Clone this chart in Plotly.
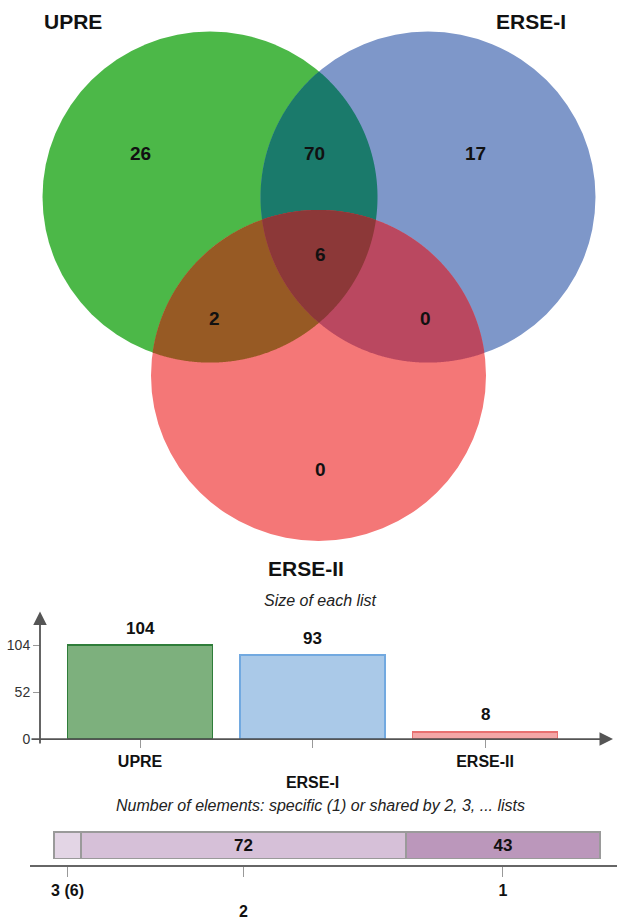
import numpy as np
import plotly.graph_objects as go

W, H = 617, 920

# ---------------- data ----------------
set_names = ["UPRE", "ERSE-I", "ERSE-II"]
# Venn region membership (UPRE, ERSE-I, ERSE-II) and counts
region_sets = [(0,), (0, 1), (1,), (0, 1, 2), (0, 2), (1, 2), (2,)]
region_counts = [26, 70, 17, 6, 2, 0, 0]
list_sizes = [104, 93, 8]
size_ticks = [0, 52, 104]
share_levels = ["3", "2", "1"]
share_counts = [6, 72, 43]

# ---------------- styles / layout ----------------
FONT = "Liberation Sans"
circle_colors = ["#4cb848", "#7e97c9", "#f47777"]
overlap_colors = {(0, 1): "#1a7a6b", (0, 2): "#975a24", (1, 2): "#ba4860", (0, 1, 2): "#8c3838"}
centers = [(210.0, 199.5), (428.0, 199.5), (318.5, 380.0)]
R = 167.5
region_label_pos = [(140, 155), (314, 155), (475, 155), (320, 258), (214, 322), (425, 322), (320, 475)]
name_label_pos = [(73, 22), (531, 22), (306, 575)]

bar_fill = ["#7db07d", "#aac9e8", "#f4a6a6"]
bar_line = ["#2f7d3a", "#72a9e0", "#e87070"]
share_fill = ["#e3d5e5", "#d6c0d8", "#bb97bb"]


def circle_pts(c, r, n=1440):
    t = np.linspace(0, 2 * np.pi, n, endpoint=False)
    return np.column_stack([c[0] + r * np.cos(t), c[1] + r * np.sin(t)])


def inside(p, c, r):
    return (p[:, 0] - c[0]) ** 2 + (p[:, 1] - c[1]) ** 2 <= r * r + 1e-6


def region_path(idx):
    pts = []
    for i in idx:
        p = circle_pts(centers[i], R)
        m = np.ones(len(p), bool)
        for j in idx:
            if j != i:
                m &= inside(p, centers[j], R)
        pts.append(p[m])
    P = np.vstack(pts)
    cx, cy = P.mean(axis=0)
    P = P[np.argsort(np.arctan2(P[:, 1] - cy, P[:, 0] - cx))]
    return "M " + " L ".join(f"{x:.2f},{y:.2f}" for x, y in P) + " Z"


shapes = []
for c, col in zip(centers, circle_colors):
    shapes.append(dict(type="circle", xref="x", yref="y", x0=c[0] - R, x1=c[0] + R,
                       y0=c[1] - R, y1=c[1] + R, fillcolor=col, line=dict(width=0), layer="below"))
for key in [(0, 1), (0, 2), (1, 2), (0, 1, 2)]:
    shapes.append(dict(type="path", xref="x", yref="y", path=region_path(key),
                       fillcolor=overlap_colors[key], line=dict(width=0), layer="below"))

annotations = []
for (x, y), n in zip(region_label_pos, region_counts):
    annotations.append(dict(x=x, y=y, xref="x", yref="y", text=f"<b>{n}</b>", showarrow=False,
                            font=dict(family=FONT, size=19, color="#111")))
for (x, y), name in zip(name_label_pos, set_names):
    annotations.append(dict(x=x, y=y, xref="x", yref="y", text=f"<b>{name}</b>", showarrow=False,
                            font=dict(family=FONT, size=21, color="#111")))

# titles
annotations.append(dict(x=320, y=608, xref="x", yref="y", text="<i>Size of each list</i>", showarrow=False,
                        font=dict(family=FONT, size=16, color="#222")))
annotations.append(dict(x=320, y=815, xref="x", yref="y",
                        text="<i>Number of elements: specific (1) or shared by 2, 3, ... lists</i>",
                        showarrow=False, font=dict(family=FONT, size=16, color="#222")))

# axis arrows for bar chart
annotations.append(dict(x=40, y=619, ax=40, ay=754, xref="x", yref="y", axref="x", ayref="y", text="",
                        showarrow=True, arrowhead=2, arrowsize=1.5, arrowwidth=1.8, arrowcolor="#555"))
annotations.append(dict(x=613, y=748, ax=30, ay=748, xref="x", yref="y", axref="x", ayref="y", text="",
                        showarrow=True, arrowhead=2, arrowsize=1.5, arrowwidth=1.8, arrowcolor="#555"))

# bar value labels
for name, v in zip(set_names, list_sizes):
    annotations.append(dict(x=name, y=v, xref="x2", yref="y2", text=f"<b>{v}</b>", showarrow=False,
                            yshift=17, font=dict(family=FONT, size=17, color="#111")))

fig = go.Figure()

fig.add_trace(go.Bar(x=set_names, y=list_sizes, xaxis="x2", yaxis="y2", width=0.84,
                     marker=dict(color=bar_fill, line=dict(color=bar_line, width=1.5)),
                     hoverinfo="skip", showlegend=False))

cum = np.cumsum(share_counts)
share_centers = [float(c - v / 2) for c, v in zip(cum, share_counts)]
share_ticktext = []
for k, (lvl, v) in enumerate(zip(share_levels, share_counts)):
    lab = f"{lvl} ({v})" if v < 10 else lvl
    if k % 2 == 1:
        lab = "<br>" + lab
    share_ticktext.append(f"<b>{lab}</b>")

for lvl, v, col in zip(share_levels, share_counts, share_fill):
    fig.add_trace(go.Bar(y=[0], x=[v], orientation="h", xaxis="x3", yaxis="y3", width=0.69,
                         marker=dict(color=col, line=dict(color="#9a9a9a", width=1.2)),
                         text=[f"<b>{v}</b>" if v >= 10 else ""], textposition="inside",
                         insidetextanchor="middle", textangle=0,
                         textfont=dict(family=FONT, size=17, color="#111"),
                         hoverinfo="skip", showlegend=False))

bar_ticktext = [f"<b>{n}</b>" if i % 2 == 0 else f"<b><br>{n}</b>" for i, n in enumerate(set_names)]

fig.update_layout(
    width=W, height=H, autosize=False,
    margin=dict(l=0, r=0, t=0, b=0),
    paper_bgcolor="white", plot_bgcolor="rgba(0,0,0,0)",
    barmode="stack",
    showlegend=False,
    hovermode=False,
    xaxis=dict(domain=[0, 1], range=[0, W], visible=False, fixedrange=True),
    yaxis=dict(domain=[0, 1], range=[H, 0], visible=False, fixedrange=True),
    xaxis2=dict(domain=[30 / W, 612 / W], range=[-0.638, 2.736], anchor="y2", type="category",
                tickmode="array", tickvals=set_names, ticktext=bar_ticktext,
                ticks="outside", ticklen=8, tickcolor="#999", tickwidth=1,
                showline=False, showgrid=False, zeroline=False,
                tickfont=dict(family=FONT, size=16, color="#111")),
    yaxis2=dict(domain=[1 - 748 / H, 1 - 620 / H], range=[0, 128 / (95 / 104)], anchor="free",
                position=40 / W, tickmode="array", tickvals=size_ticks,
                ticks="outside", ticklen=7, tickcolor="#999", tickwidth=1,
                showline=False, showgrid=False, zeroline=False,
                tickfont=dict(family=FONT, size=14, color="#333")),
    xaxis3=dict(domain=[30 / W, 1], range=[(30 - 54) / 4.512, (617 - 54) / 4.512], anchor="y3",
                tickmode="array", tickvals=share_centers, ticktext=share_ticktext,
                ticks="outside", ticklen=10, tickcolor="#999", tickwidth=1,
                showline=True, linecolor="#666", linewidth=2,
                showgrid=False, zeroline=False,
                tickfont=dict(family=FONT, size=16, color="#111")),
    yaxis3=dict(domain=[1 - 875 / H, 1 - 836 / H], range=[-0.5, 0.5], anchor="x3", visible=False),
    shapes=shapes,
    annotations=annotations,
)

fig.write_html(
    "out.html",
    config={"displayModeBar": False, "staticPlot": True},
    post_script=("document.body.style.margin='0px';"
                 "document.body.style.overflow='hidden';"
                 "document.documentElement.style.overflow='hidden';"),
)
